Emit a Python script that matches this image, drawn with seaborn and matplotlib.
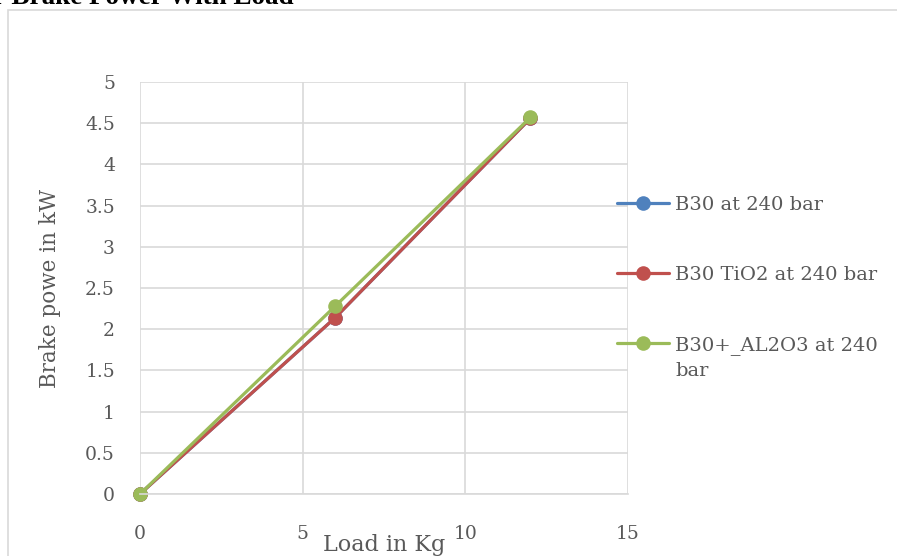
import pandas as pd
import matplotlib
matplotlib.use("Agg")
import matplotlib.pyplot as plt
import seaborn as sns
from matplotlib.patches import Rectangle

# data
load_kg = [0, 6, 12]
b30 = [0, 2.14, 4.56]
b30_tio2 = [0, 2.14, 4.56]
b30_al2o3 = [0, 2.28, 4.57]
series_names = ["B30 at 240 bar", "B30 TiO2 at 240 bar", "B30+_AL2O3 at 240"]
series_colors = ["#4f81bd", "#c0504d", "#9bbb59"]
y_ticks = [0, 0.5, 1, 1.5, 2, 2.5, 3, 3.5, 4, 4.5, 5]
y_tick_labels = ["0", "0.5", "1", "1.5", "2", "2.5", "3", "3.5", "4", "4.5", "5"]
x_ticks = [0, 5, 10, 15]

sns.set_style("white")
plt.rcParams['font.family'] = ['DejaVu Serif']

fig = plt.figure(figsize=(8.97, 5.56), dpi=100)
ax = fig.add_axes([140/897, 1 - 494/556, 488/897, 412/556])

# outer chart border (cut off at right and bottom)
fig.patches.append(Rectangle((8/897, -0.1), 1.2, 1 - 10/556 + 0.1, transform=fig.transFigure,
                             fill=False, edgecolor="#d9d9d9", linewidth=1.2))

for vals, name, col in zip([b30, b30_tio2, b30_al2o3], series_names, series_colors):
    df = pd.DataFrame({"load": load_kg, "power": vals})
    sns.lineplot(data=df, x="load", y="power", ax=ax, color=col, linewidth=2.3,
                 marker="o", markersize=10.5, markeredgewidth=0, label=name, clip_on=False)

ax.set_xlim(0, 15)
ax.set_ylim(0, 5)
ax.set_xticks(x_ticks)
ax.set_yticks(y_ticks)
ax.set_yticklabels(y_tick_labels)
ax.grid(True, color="#d9d9d9", linewidth=1.2)
ax.set_axisbelow(True)
for s in ["top", "left", "right"]:
    ax.spines[s].set_visible(False)
ax.spines["bottom"].set_color("#d9d9d9")
ax.spines["bottom"].set_linewidth(1.2)
ax.tick_params(axis="x", length=0, pad=22, labelsize=13.5, labelcolor="#595959")
ax.tick_params(axis="y", length=0, pad=18, labelsize=13.5, labelcolor="#595959")

ax.set_xlabel("Load in Kg", fontsize=16, color="#595959")
ax.xaxis.set_label_coords(0.5, -0.097)
ax.set_ylabel("Brake powe in kW", fontsize=15.5, color="#595959")
ax.yaxis.set_label_coords(-0.162, 0.5)

ax.get_legend().remove()
handles, labels = ax.get_legend_handles_labels()
leg = fig.legend(handles, labels, loc="upper left", bbox_to_anchor=(609/897, 1 - 188/556),
                 frameon=False, fontsize=14, labelcolor="#595959", handlelength=2.7,
                 handletextpad=0.3, labelspacing=2.68, borderaxespad=0)

# wrapped second line of the third legend entry
fig.canvas.draw()
bb = leg.get_texts()[2].get_window_extent().transformed(fig.transFigure.inverted())
fig.text(bb.x0, bb.y0 - 21.5/556, "bar", fontsize=14, color="#595959", ha="left", va="baseline")

fig.text(-7/897, 1 - 4/556, "r Brake Power With Load", fontsize=19.5, fontweight="bold",
         family="Liberation Serif", color="black", ha="left", va="baseline")

fig.savefig("out.png", dpi=100)
